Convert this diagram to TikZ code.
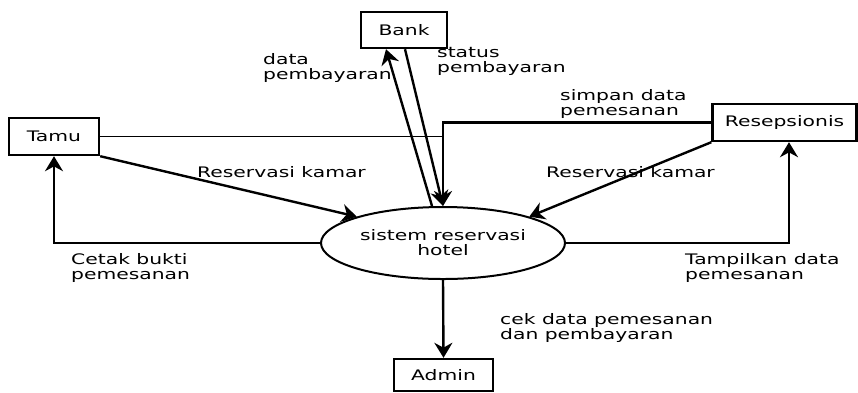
\documentclass[tikz,border=0pt]{standalone}
\usepackage{fontspec}
\setmainfont{DejaVu Sans}[FakeStretch=1.4]
\usetikzlibrary{arrows.meta,shapes.geometric}

\tikzset{
  entity/.style={draw, line width=2.4pt, rectangle, inner sep=0pt},
  process/.style={draw, line width=2pt, ellipse, minimum width=244pt, minimum height=72pt, align=center, inner sep=0pt},
  flow/.style={line width=2.4pt, -{Stealth[length=15pt,width=18pt]}},
  joint/.style={line width=1.8pt},
  flowtext/.style={align=left, anchor=north west, inner sep=0pt, font=\fontsize{14.5}{15}\selectfont}
}

\begin{document}
\begin{tikzpicture}[x=1pt, y=-1pt, font=\fontsize{14.5}{15}\selectfont]
  \useasboundingbox (0,0) rectangle (858,392);
  \node [entity, minimum width=86pt, minimum height=36pt] (bank) at (404,30) {Bank};
  \node [entity, minimum width=90pt, minimum height=37pt] (tamu) at (54,136.5) {Tamu};
  \node [entity, minimum width=144pt, minimum height=37pt] (resep) at (784.5,122.5) {Resepsionis};
  \node [entity, minimum width=99pt, minimum height=32pt] (admin) at (443.5,375) {Admin};
  \node [process] (sys) at (443,243) {sistem reservasi\\hotel};

  \draw [flow] (tamu.south east) -- (sys.163);
  \draw [flow] (resep.south west) -- (sys.17);
  \draw [flow] (resep.west) -| (sys.north);
  \draw [joint] (tamu.east) -- (tamu.east -| sys.north);
  \draw [flow] ([xshift=-11pt]sys.north) -- ([xshift=-18pt]bank.south);
  \draw [flow] ([xshift=1pt]bank.south) -- (sys.north);
  \draw [flow] (sys.west) -| (tamu.south);
  \draw [flow] (sys.east) -| ([xshift=4.5pt]resep.south);
  \draw [flow] (sys.south) -- (admin.north);

  \node [flowtext] (tdata) at (263,53) {data\\pembayaran};
  \node [flowtext] (tstatus) at (437,47) {status\\pembayaran};
  \node [flowtext] (tsimpan) at (560,89) {simpan data\\pemesanan};
  \node [flowtext, anchor=west] (tresl) at (197,172) {Reservasi kamar};
  \node [flowtext, anchor=west] (tresr) at (546,172) {Reservasi kamar};
  \node [flowtext] (tcetak) at (71,253) {Cetak bukti\\pemesanan};
  \node [flowtext] (ttampil) at (685,253) {Tampilkan data\\pemesanan};
  \node [flowtext] (tcek) at (500,313) {cek data pemesanan\\dan pembayaran};
\end{tikzpicture}
\end{document}
